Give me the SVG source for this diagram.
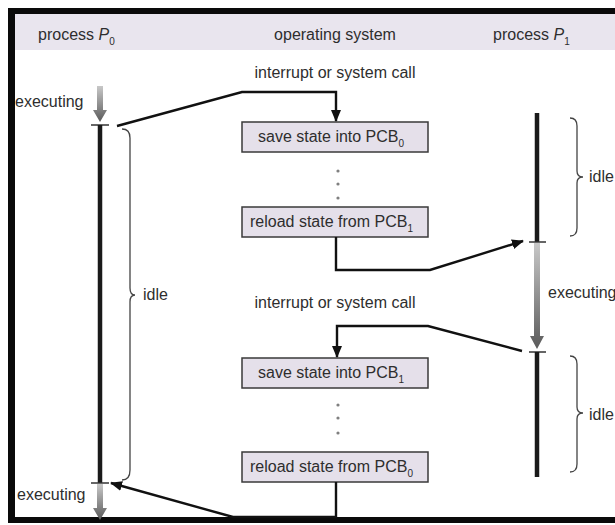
<svg xmlns="http://www.w3.org/2000/svg" width="615" height="525" viewBox="0 0 615 525">
  <style>
    .t { font-family: "Liberation Sans", Arial, sans-serif; font-size: 16px; fill: #2e2e2e; }
    .sub { font-size: 10px; }
    .it { font-style: italic; }
    .box { fill: #e5e0ea; stroke: #3a3a3a; stroke-width: 1.5; }
    .conn { fill: none; stroke: #111; stroke-width: 2.4; stroke-linejoin: miter; }
    .run { stroke: #1a1a1a; stroke-width: 4.5; }
    .tick { stroke: #333; stroke-width: 1.5; }
    .brace { fill: none; stroke: #444; stroke-width: 1.3; }
    .dot { fill: #808080; }
  </style>
  <defs>
    <marker id="head" markerUnits="userSpaceOnUse" markerWidth="12" markerHeight="10" refX="11" refY="5" orient="auto">
      <path d="M0,0 L12,5 L0,10 Z" fill="#111"/>
    </marker>
    <linearGradient id="execGrad" x1="0" y1="0" x2="0" y2="1">
      <stop offset="0" stop-color="#c8c8c8"/>
      <stop offset="1" stop-color="#5a5a5a"/>
    </linearGradient>
  </defs>

  <!-- page frame and header band -->
  <rect x="0" y="0" width="615" height="525" fill="#ffffff"/>
  <rect x="15" y="14" width="600" height="36" fill="#e9e5ee"/>
  <rect x="8" y="8" width="607" height="6" fill="#0a0a0a"/>
  <rect x="8" y="8" width="7" height="515" fill="#0a0a0a"/>
  <rect x="8" y="517" width="607" height="6" fill="#0a0a0a"/>

  <g id="header">
    <text class="t" x="38" y="40">process <tspan class="it">P</tspan><tspan class="sub" dy="5">0</tspan></text>
    <text class="t" x="335" y="40" text-anchor="middle">operating system</text>
    <text class="t" x="493" y="40">process <tspan class="it">P</tspan><tspan class="sub" dy="5">1</tspan></text>
  </g>

  <!-- process P0 timeline -->
  <g id="p0">
    <path d="M97,86 H103 V110 H107 L100,122 L93,110 H97 Z" fill="url(#execGrad)"/>
    <line class="tick" x1="91" y1="125" x2="109" y2="125"/>
    <line class="run" x1="100" y1="125" x2="100" y2="483"/>
    <line class="tick" x1="91" y1="483" x2="109" y2="483"/>
    <path d="M97,484 H103 V508 H107 L100,520 L93,508 H97 Z" fill="url(#execGrad)"/>
    <text class="t" x="15" y="107">executing</text>
    <text class="t" x="17" y="500">executing</text>
    <path class="brace" d="M122,129 Q130,129 130,138 V288 Q130,295 135,295 Q130,295 130,302 V470 Q130,480 122,480"/>
    <text class="t" x="143" y="300">idle</text>
  </g>

  <!-- process P1 timeline -->
  <g id="p1">
    <line class="run" x1="537" y1="113" x2="537" y2="242"/>
    <line class="tick" x1="529" y1="242" x2="546" y2="242"/>
    <path d="M534,243 H540 V336 H544 L537,349 L530,336 H534 Z" fill="url(#execGrad)"/>
    <line class="tick" x1="529" y1="352" x2="546" y2="352"/>
    <line class="run" x1="537" y1="352" x2="537" y2="477"/>
    <text class="t" x="548" y="298" font-size="13.5">executing</text>
    <path class="brace" d="M570,118 Q577,118 577,126 V171 Q577,177 583,177 Q577,177 577,183 V228 Q577,236 570,236"/>
    <text class="t" x="589" y="182">idle</text>
    <path class="brace" d="M570,356 Q577,356 577,364 V407 Q577,413 583,413 Q577,413 577,419 V464 Q577,472 570,472"/>
    <text class="t" x="589" y="420">idle</text>
  </g>

  <!-- operating system steps -->
  <g id="os-save0">
    <rect class="box" x="242" y="122" width="186" height="30"/>
    <text class="t" x="258" y="142">save state into PCB<tspan class="sub" dy="5">0</tspan></text>
  </g>
  <g id="os-gap1">
    <circle class="dot" cx="338" cy="171" r="1.6"/>
    <circle class="dot" cx="338" cy="184" r="1.6"/>
    <circle class="dot" cx="338" cy="198" r="1.6"/>
  </g>
  <g id="os-reload1">
    <rect class="box" x="242" y="207" width="186" height="30"/>
    <text class="t" x="250" y="227">reload state from PCB<tspan class="sub" dy="5">1</tspan></text>
  </g>
  <g id="os-save1">
    <rect class="box" x="242" y="358" width="186" height="30"/>
    <text class="t" x="258" y="378">save state into PCB<tspan class="sub" dy="5">1</tspan></text>
  </g>
  <g id="os-gap2">
    <circle class="dot" cx="338" cy="405" r="1.6"/>
    <circle class="dot" cx="338" cy="418" r="1.6"/>
    <circle class="dot" cx="338" cy="433" r="1.6"/>
  </g>
  <g id="os-reload0">
    <rect class="box" x="242" y="452" width="186" height="30"/>
    <text class="t" x="250" y="472">reload state from PCB<tspan class="sub" dy="5">0</tspan></text>
  </g>

  <g id="labels">
    <text class="t" x="335" y="78" text-anchor="middle">interrupt or system call</text>
    <text class="t" x="335" y="308" text-anchor="middle">interrupt or system call</text>
  </g>

  <!-- control transfers -->
  <g id="connectors">
    <polyline class="conn" points="117,126 242,92 336,92 336,121" marker-end="url(#head)"/>
    <polyline class="conn" points="336,237 336,270 430,270 523,241" marker-end="url(#head)"/>
    <polyline class="conn" points="522,351 428,326 337,326 337,357" marker-end="url(#head)"/>
    <polyline class="conn" points="336,482 336,517 233,517 111,483" marker-end="url(#head)"/>
  </g>
</svg>
